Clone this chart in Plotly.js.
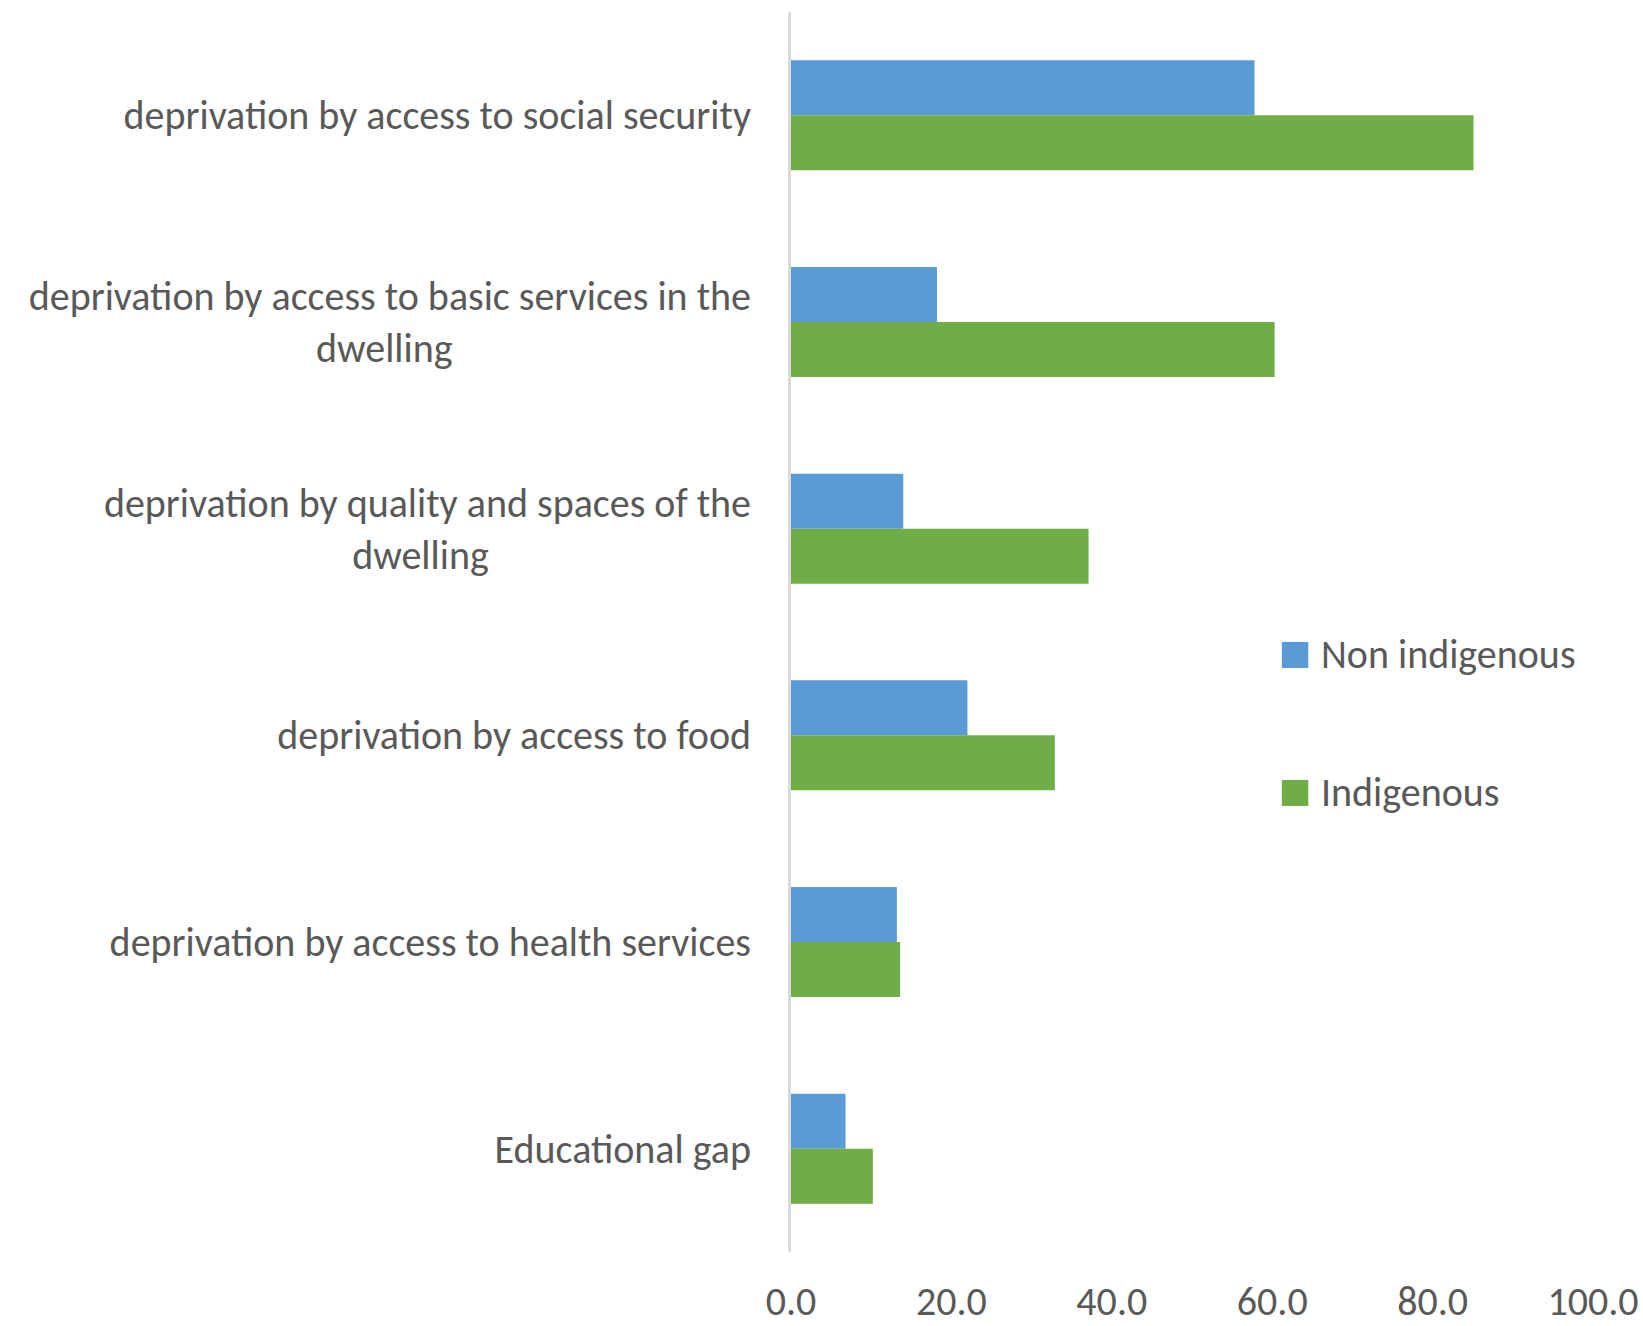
<!DOCTYPE html>
<html>
<head>
<meta charset="utf-8">
<script src="https://cdn.plot.ly/plotly-3.0.1.min.js"></script>
<style>html,body{margin:0;padding:0;background:#fff;}</style>
</head>
<body>
<div id="chart" style="width:1643px;height:1326px;"></div>
<script>
const NB = '\u00A0';
const categories = [
  'deprivation by access to social security',
  'deprivation by access to basic services in the<br>dwelling' + NB.repeat(33),
  'deprivation by quality and spaces of the<br>dwelling' + NB.repeat(29),
  'deprivation by access to food',
  'deprivation by access to health services',
  'Educational gap'
];
const seriesNames = ['Non indigenous', 'Indigenous'];
const nonIndigenous = [57.8, 18.2, 14.0, 22.0, 13.2, 6.8];
const indigenous = [85.1, 60.3, 37.1, 32.9, 13.6, 10.2];
const xTicks = [0, 20, 40, 60, 80, 100];
const xTickLabels = ['0.0', '20.0', '40.0', '60.0', '80.0', '100.0'];

const FONT = "Carlito, Lato, 'Liberation Sans Narrow', sans-serif";
const TXT = '#595959';
const COLORS = ['#5B9BD5', '#70AD47'];

const data = [
  {type: 'bar', orientation: 'h', name: seriesNames[0], x: nonIndigenous, y: categories,
   marker: {color: COLORS[0]}, hoverinfo: 'x+y'},
  {type: 'bar', orientation: 'h', name: seriesNames[1], x: indigenous, y: categories,
   marker: {color: COLORS[1]}, hoverinfo: 'x+y'}
];

// legend drawn as shapes + text (the built-in bar legend swatch cannot be enlarged)
const legY = [0.4815, 0.3702];
const shapes = legY.map((y, i) => ({
  type: 'rect', xref: 'paper', yref: 'paper',
  x0: 0.612, x1: 0.645, y0: y - 0.0105, y1: y + 0.0105,
  fillcolor: COLORS[i], line: {width: 0}
}));
const annotations = legY.map((y, i) => ({
  xref: 'paper', yref: 'paper', x: 0.6585, y: y, xanchor: 'left', yanchor: 'middle',
  text: seriesNames[i], showarrow: false, font: {family: FONT, size: 40, color: TXT}
}));

const layout = {
  width: 1643, height: 1326,
  margin: {l: 791, r: 50, t: 12, b: 74, pad: 0},
  paper_bgcolor: '#fff', plot_bgcolor: '#fff',
  barmode: 'group', bargap: 0.468, bargroupgap: 0,
  font: {family: FONT, color: TXT, size: 40},
  showlegend: false,
  shapes: shapes,
  annotations: annotations,
  xaxis: {range: [0, 100], tickvals: xTicks, ticktext: xTickLabels, showgrid: false,
          zeroline: false, showline: false, ticks: 'outside', ticklen: 14,
          tickcolor: 'rgba(0,0,0,0)', tickfont: {family: FONT, size: 40, color: TXT},
          fixedrange: true},
  yaxis: {type: 'category', autorange: 'reversed', showgrid: false, zeroline: false,
          showline: true, linecolor: '#D9D9D9', linewidth: 3,
          ticks: 'outside', ticklen: 29, tickcolor: 'rgba(0,0,0,0)',
          tickfont: {family: FONT, size: 40, color: TXT}, fixedrange: true}
};

Plotly.newPlot('chart', data, layout, {displayModeBar: false, staticPlot: true});
</script>
</body>
</html>
